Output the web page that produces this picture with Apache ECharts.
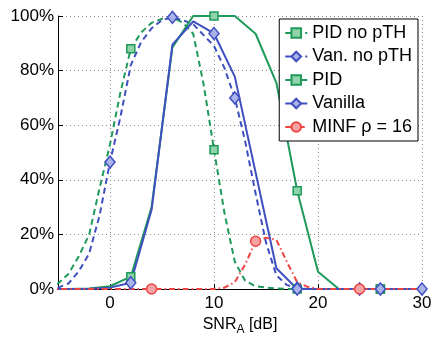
<!DOCTYPE html>
<html>
<head>
<meta charset="utf-8">
<script src="https://cdn.jsdelivr.net/npm/echarts@6/dist/echarts.min.js"></script>
<style>
html,body{margin:0;padding:0;background:#fff;}
#c{width:433px;height:337px;}
</style>
</head>
<body>
<div id="c"></div>
<script>
// SNR values (dB)
var snrFine = [-6,-5,-4,-3,-2,-1,0,1,2,3,4,5,6,7,8,9,10,11,12,13,14,15,16,17,18,19,20,21,22,23,24,25,26,27,28,29,30];
var snrCoarse = [-6,-4,-2,0,2,4,6,8,10,12,14,16,18,20,22,24,26,28,30];

// Series values (%)
var pidNoPTH = [0.5,2,5.5,12,20,37,53,72,88,94,97.5,99,99.5,97.5,93.5,75,51,28,10,3,1,0.5,0.2,0,0,0,0,0,0,0,0,0,0,0,0,0,0];
var vanNoPTH = [0,0.5,2,6.5,13,27,46.5,63,82,90.5,95.5,98.5,99.5,98.5,97,93,89,81,70,54,35,17,5,1.5,0.3,0,0,0,0,0,0,0,0,0,0,0,0];
var pid      = [0,0,0.2,1,4.5,30,88.5,100,100,100,93.5,75.5,36,6.3,0,0,0,0,0];
var vanilla  = [0,0,0.1,0.5,2.3,29,89.5,98,93.6,77.8,42.7,7.6,0,0,0,0,0,0,0];
var minf     = [0,0,0,0,0,0,0,0,0,0,0,0,0,0,0,0,0,0.5,2.5,9,17.5,18.8,18,10,2.5,0.8,0,0,0,0,0,0,0,0,0,0,0];

var xTicks = [0,10,20,30];
var yTicks = [0,20,40,60,80,100];

var seriesNames = ['PID no pTH','Van. no pTH','PID','Vanilla','MINF \u03C1 = 16'];

var FONT = 'Liberation Sans';
var GREEN = '#1f9a5a', GREEN_F = '#8fd3aa';
var BLUE = '#3f4fbf', BLUE_F = '#aab2ea';
var RED = '#ee4444', RED_F = '#f7a3a3';
var XMIN = -5;

function build(xs, ys, every, shape) {
  return xs.map(function (x, i) {
    var show = (i % every === 0) && x >= XMIN;
    return { value: [x, ys[i]], symbol: show ? shape : 'none' };
  });
}

function mk(name, xs, ys, every, shape, size, color, fill, dash) {
  return {
    name: name,
    type: 'line',
    data: build(xs, ys, every, shape),
    symbol: shape,
    symbolSize: size,
    showSymbol: true,
    clip: true,
    lineStyle: { color: color, width: 2, type: dash },
    itemStyle: { color: fill, borderColor: color, borderWidth: 1.5 },
    emphasis: { disabled: true },
    z: 3
  };
}

var chart = echarts.init(document.getElementById('c'), null, { renderer: 'canvas' });
chart.setOption({
  animation: false,
  backgroundColor: '#fff',
  textStyle: { fontFamily: FONT },
  grid: { left: 58, right: 11, top: 16, bottom: 48, containLabel: false, outerBoundsMode: 'none' },
  legend: {
    orient: 'vertical',
    right: 15,
    top: 19,
    padding: [5, 6, 5, 5],
    itemWidth: 22,
    itemHeight: 12,
    itemGap: 5.5,
    backgroundColor: '#fff',
    borderColor: '#000',
    borderWidth: 1,
    borderRadius: 0,
    textStyle: { fontFamily: FONT, fontSize: 18, color: '#000' },
    data: seriesNames
  },
  xAxis: {
    type: 'value',
    min: XMIN,
    max: 30,
    name: 'SNR{sub|A} [dB]',
    nameLocation: 'middle',
    nameGap: 9,
    nameTextStyle: {
      fontFamily: FONT, fontSize: 16, color: '#000', lineHeight: 16,
      rich: { sub: { fontFamily: FONT, fontSize: 12, color: '#000', padding: [10, 0, 0, 0] } }
    },
    axisLine: { show: true, onZero: false, lineStyle: { color: '#000', width: 1 } },
    axisTick: { show: true, inside: true, length: 5, customValues: xTicks, lineStyle: { color: '#000' } },
    axisLabel: { customValues: xTicks, margin: 6, fontFamily: FONT, fontSize: 17, color: '#000' },
    splitLine: { show: true, lineStyle: { color: '#8a8a8a', type: [1, 3], width: 1 } }
  },
  yAxis: {
    type: 'value',
    min: 0,
    max: 100,
    interval: 20,
    axisLine: { show: true, onZero: false, lineStyle: { color: '#000', width: 1 } },
    axisTick: { show: true, inside: true, length: 5, lineStyle: { color: '#000' } },
    axisLabel: { formatter: '{value}%', margin: 4, fontFamily: FONT, fontSize: 17, color: '#000' },
    splitLine: { show: true, lineStyle: { color: '#8a8a8a', type: [1, 3], width: 1 } }
  },
  series: [
    mk(seriesNames[0], snrFine, pidNoPTH, 8, 'rect', 8, GREEN, GREEN_F, [6, 4]),
    mk(seriesNames[1], snrFine, vanNoPTH, 6, 'diamond', [10, 12], BLUE, BLUE_F, [6, 4]),
    mk(seriesNames[2], snrCoarse, pid, 4, 'rect', 8, GREEN, GREEN_F, 'solid'),
    mk(seriesNames[3], snrCoarse, vanilla, 4, 'diamond', [10, 12], BLUE, BLUE_F, 'solid'),
    mk(seriesNames[4], snrFine, minf, 10, 'circle', 10, RED, RED_F, [6, 3, 1.5, 3])
  ]
});
</script>
</body>
</html>
